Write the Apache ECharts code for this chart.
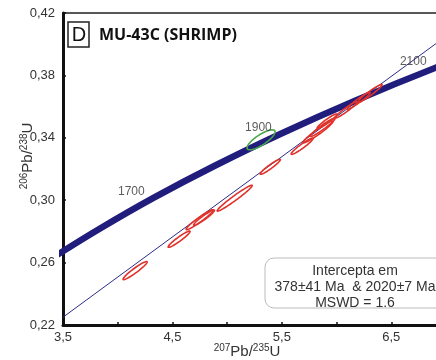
<!DOCTYPE html>
<html>
<head>
<meta charset="utf-8">
<script src="https://cdn.jsdelivr.net/npm/echarts@6/dist/echarts.min.js"></script>
<style>
  html, body { margin: 0; padding: 0; background: #fff; }
  #main { width: 436px; height: 360px; }
</style>
</head>
<body>
<div id="main"></div>
<script>
// concordia points (ages in Ma)
var concordiaAges = [1500, 1600, 1700, 1800, 1900, 2000, 2100, 2200];
var concordiaX = [3.381, 3.835, 4.335, 4.887, 5.496, 6.169, 6.911, 7.730];
var concordiaY = [0.2620, 0.2817, 0.3018, 0.3221, 0.3428, 0.3638, 0.3851, 0.4067];
var labelAges = [1700, 1900, 2100];

// discordia end points
var discordiaX = [3.5, 7.0];
var discordiaY = [0.225, 0.4051];

// error ellipses: [207Pb/235U, 206Pb/238U, sx, sy, rho]
var redEllipses = [
  [4.159, 0.2549, 0.110, 0.0058, 0.95],
  [4.561, 0.2750, 0.100, 0.0052, 0.95],
  [4.749, 0.2875, 0.124, 0.0064, 0.96],
  [4.789, 0.2888, 0.095, 0.0049, 0.95],
  [5.069, 0.3013, 0.160, 0.0083, 0.975],
  [5.394, 0.3214, 0.092, 0.0048, 0.95],
  [5.685, 0.3346, 0.100, 0.0052, 0.95],
  [5.831, 0.3438, 0.137, 0.0070, 0.96],
  [5.872, 0.3467, 0.114, 0.0059, 0.96],
  [5.913, 0.3506, 0.091, 0.0047, 0.95],
  [6.087, 0.3579, 0.100, 0.0052, 0.96],
  [6.201, 0.3637, 0.105, 0.0054, 0.96],
  [6.306, 0.3685, 0.110, 0.0057, 0.96]
];
var greenEllipses = [
  [5.310, 0.3387, 0.128, 0.0064, 0.80]
];

var xTickLabels = [3.5, 4.5, 5.5, 6.5];

var chart = echarts.init(document.getElementById('main'));

function fmt(v, d) {
  return v.toFixed(d).replace('.', ',');
}

function renderEllipse(params, api) {
  var cx = api.value(0), cy = api.value(1);
  var sx = api.value(2), sy = api.value(3), r = api.value(4);
  var pts = [];
  for (var i = 0; i < 72; i++) {
    var t = i / 72 * Math.PI * 2;
    pts.push(api.coord([
      cx + sx * Math.cos(t),
      cy + sy * (r * Math.cos(t) + Math.sqrt(1 - r * r) * Math.sin(t))
    ]));
  }
  return {
    type: 'polygon',
    shape: { points: pts },
    style: { fill: 'none', stroke: api.visual('color'), lineWidth: 1.6 }
  };
}

var concordiaData = concordiaX.map(function (x, i) { return [x, concordiaY[i]]; });
var ageLabelData = labelAges.map(function (a) {
  var i = concordiaAges.indexOf(a);
  return [concordiaX[i], concordiaY[i], a];
});

var font = 'Liberation Sans, Arial, sans-serif';

var option = {
  animation: false,
  backgroundColor: '#fff',
  grid: {
    left: 63, top: 13, width: 383, height: 312,
    outerBoundsMode: 'none',
    show: true, borderColor: '#222', borderWidth: 1.5
  },
  xAxis: {
    type: 'value', min: 3.5, max: 7.0, interval: 0.5,
    axisLine: { show: true, onZero: false, lineStyle: { color: '#111', width: 3 } },
    axisTick: { show: true, inside: true, length: 3, lineStyle: { color: '#111', width: 1.5 } },
    splitLine: { show: false },
    axisLabel: {
      margin: 6, color: '#333', fontSize: 13, fontFamily: font,
      formatter: function (v) {
        for (var i = 0; i < xTickLabels.length; i++) {
          if (Math.abs(v - xTickLabels[i]) < 1e-6) return fmt(v, 1);
        }
        return '';
      }
    }
  },
  yAxis: {
    type: 'value', min: 0.22, max: 0.42, interval: 0.04,
    axisLine: { show: true, onZero: false, lineStyle: { color: '#111', width: 3 } },
    axisTick: { show: true, inside: true, length: 3, lineStyle: { color: '#111', width: 1.5 } },
    splitLine: { show: false },
    axisLabel: {
      margin: 8, color: '#333', fontSize: 13, fontFamily: font,
      formatter: function (v) { return fmt(v, 2); }
    }
  },
  graphic: [
    { type: 'rect', shape: { x: 68, y: 22, width: 21, height: 25 },
      style: { fill: '#fff', stroke: '#222', lineWidth: 1.5 }, z: 10 },
    { type: 'text', x: 79, y: 35,
      style: { text: 'D', fontSize: 20, fontFamily: font, fill: '#111', align: 'center', verticalAlign: 'middle' }, z: 11 },
    { type: 'text', x: 99, y: 35,
      style: { text: 'MU-43C (SHRIMP)', fontSize: 16, fontWeight: 'bold', fontFamily: 'Open Sans, sans-serif', fill: '#111', align: 'left', verticalAlign: 'middle' }, z: 11 },
    { type: 'rect', shape: { x: 265, y: 258, width: 190, height: 50, r: 9 },
      style: { fill: '#fff', stroke: '#bbb', lineWidth: 1 }, z: 10 },
    { type: 'text', x: 355, y: 271,
      style: { text: 'Intercepta em', fontSize: 14, fontFamily: font, fill: '#333', align: 'center', verticalAlign: 'middle' }, z: 11 },
    { type: 'text', x: 355, y: 287,
      style: { text: '378±41 Ma  & 2020±7 Ma', fontSize: 14, fontFamily: font, fill: '#333', align: 'center', verticalAlign: 'middle' }, z: 11 },
    { type: 'text', x: 355, y: 303,
      style: { text: 'MSWD = 1.6', fontSize: 14, fontFamily: font, fill: '#333', align: 'center', verticalAlign: 'middle' }, z: 11 },
    { type: 'text', x: 247, y: 352,
      style: {
        text: '{s|207}{m|Pb/}{s|235}{m|U}', align: 'center', verticalAlign: 'middle',
        rich: {
          s: { fontSize: 10, fontFamily: font, fill: '#333', verticalAlign: 'top', lineHeight: 18 },
          m: { fontSize: 15, fontFamily: font, fill: '#333', lineHeight: 18 }
        }
      }, z: 11 },
    { type: 'text', x: 28, y: 156, rotation: Math.PI / 2,
      style: {
        text: '{s|206}{m|Pb/}{s|238}{m|U}', align: 'center', verticalAlign: 'middle',
        rich: {
          s: { fontSize: 10, fontFamily: font, fill: '#333', verticalAlign: 'top', lineHeight: 18 },
          m: { fontSize: 15, fontFamily: font, fill: '#333', lineHeight: 18 }
        }
      }, z: 11 }
  ],
  series: [
    {
      type: 'line', data: discordiaX.map(function (x, i) { return [x, discordiaY[i]]; }),
      showSymbol: false, lineStyle: { color: '#2c2c86', width: 1 }, z: 2, silent: true
    },
    {
      type: 'line', data: concordiaData, smooth: 0.4, showSymbol: false,
      lineStyle: { color: '#211d7c', width: 6.5 }, z: 3, silent: true
    },
    {
      type: 'scatter', data: ageLabelData, symbolSize: 0, z: 6,
      label: {
        show: true, position: 'inside', offset: [-23, -6],
        color: '#333', fontSize: 12, fontFamily: font,
        formatter: function (p) { return String(p.value[2]); }
      }
    },
    {
      type: 'custom', data: redEllipses, renderItem: renderEllipse,
      itemStyle: { color: '#e0322b' }, z: 4, silent: true
    },
    {
      type: 'custom', data: greenEllipses, renderItem: renderEllipse,
      itemStyle: { color: '#4aa84a' }, z: 5, silent: true
    }
  ]
};

chart.setOption(option);
</script>
</body>
</html>
